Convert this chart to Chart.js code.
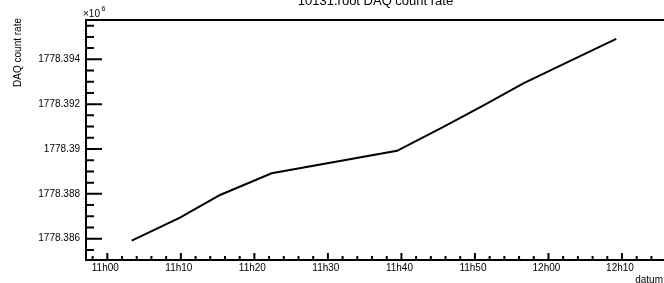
<!DOCTYPE html>
<html lang="en">
<head>
  <meta charset="UTF-8">
  <title>10131.root DAQ count rate</title>
  <script src="https://cdn.jsdelivr.net/npm/chart.js"></script>
  <style>
    html, body { margin: 0; padding: 0; overflow: hidden; background: #fff; }
    canvas { display: block; }
  </style>
</head>
<body>
  <canvas id="rateChart" width="670" height="283"></canvas>

  <script>
// measurement times (hh:mm:ss) and DAQ count rate in units of 10^6
const times = ['11:03:19', '11:09:53', '11:15:20', '11:22:21', '11:39:24',
               '11:45:31', '11:51:03', '11:56:35', '12:02:53', '12:09:13'];
const rates = [1778.38591, 1778.38694, 1778.38795, 1778.38892, 1778.38992,
               1778.39095, 1778.39192, 1778.39293, 1778.39392, 1778.39491];

// axis ticks (x in minutes since midnight)
const xTicks = [660, 670, 680, 690, 700, 710, 720, 730];
const yTicks = [1778.386, 1778.388, 1778.39, 1778.392, 1778.394];

function toMinutes(t) {
  const p = t.split(':').map(Number);
  return p[0] * 60 + p[1] + p[2] / 60;
}

function fmtTime(v) {
  const h = Math.floor(v / 60);
  const m = Math.round(v - h * 60);
  return h + 'h' + (m < 10 ? '0' : '') + m;
}

const points = times.map((t, i) => ({ x: toMinutes(t), y: rates[i] }));

const FONT = 'Liberation Sans, Arial, Helvetica, sans-serif';
Chart.defaults.font.family = FONT;
Chart.defaults.color = '#000';

// ROOT style frame, inward ticks and labels
const rootFrame = {
  id: 'rootFrame',
  afterDraw(chart) {
    const ctx = chart.ctx;
    const a = chart.chartArea;
    const xs = chart.scales.x;
    const ys = chart.scales.y;
    ctx.save();
    ctx.strokeStyle = '#000';
    ctx.lineWidth = 2;
    ctx.strokeRect(a.left, a.top, a.right - a.left, a.bottom - a.top);

    // y ticks (minor every 0.0005, major every 0.002)
    ctx.beginPath();
    const yStart = Math.ceil(ys.min / 0.0005);
    const yEnd = Math.floor(ys.max / 0.0005);
    for (let k = yStart; k <= yEnd; k++) {
      const v = k * 0.0005;
      const py = ys.getPixelForValue(v);
      const major = yTicks.some(t => Math.abs(t - v) < 1e-7);
      ctx.moveTo(a.left, py);
      ctx.lineTo(a.left + (major ? 16 : 8), py);
    }
    // x ticks (minor every 2 min, major every 10 min)
    const xStart = Math.ceil(xs.min / 2);
    const xEnd = Math.floor(xs.max / 2);
    for (let k = xStart; k <= xEnd; k++) {
      const v = k * 2;
      const px = xs.getPixelForValue(v);
      const major = v % 10 === 0;
      ctx.moveTo(px, a.bottom);
      ctx.lineTo(px, a.bottom - (major ? 7 : 4));
    }
    ctx.stroke();

    // title
    ctx.fillStyle = '#000';
    ctx.font = '13px ' + FONT;
    ctx.textAlign = 'center';
    ctx.textBaseline = 'alphabetic';
    ctx.fillText('10131.root DAQ count rate', (a.left + a.right) / 2, 5);

    // exponent
    ctx.textAlign = 'left';
    ctx.font = '10px ' + FONT;
    ctx.fillText('\u00d710', 83, 17);
    ctx.font = '7px ' + FONT;
    ctx.fillText('6', 101.5, 10.5);

    // x title
    ctx.font = '10px ' + FONT;
    ctx.textAlign = 'right';
    ctx.fillText('datum', 663, 282.5);

    // y title
    ctx.translate(20.5, 18);
    ctx.rotate(-Math.PI / 2);
    ctx.textAlign = 'right';
    ctx.fillText('DAQ count rate', 0, 0);
    ctx.restore();
  }
};

const ctx = document.getElementById('rateChart').getContext('2d');
const chart = new Chart(ctx, {
  type: 'line',
  data: {
    datasets: [{
      label: 'DAQ count rate',
      data: points,
      borderColor: '#000',
      backgroundColor: '#000',
      borderWidth: 2,
      pointRadius: 0,
      tension: 0
    }]
  },
  options: {
    responsive: false,
    animation: false,
    layout: { padding: { top: 20, right: 5, left: 0, bottom: 0 } },
    plugins: { legend: { display: false }, tooltip: { enabled: false } },
    scales: {
      x: {
        type: 'linear',
        min: 657.10,
        max: 735.85,
        grid: { display: false, drawTicks: false },
        border: { display: false },
        ticks: {
          font: { size: 10 },
          padding: 2,
          labelOffset: -2,
          autoSkip: false,
          maxRotation: 0,
          minRotation: 0,
          callback: v => fmtTime(v)
        },
        afterBuildTicks: s => { s.ticks = xTicks.map(v => ({ value: v })); },
        afterFit: s => { s.height = 23; }
      },
      y: {
        min: 1778.38505,
        max: 1778.395753,
        grid: { display: false, drawTicks: false },
        border: { display: false },
        ticks: {
          font: { size: 10 },
          padding: 6,
          autoSkip: false,
          callback: v => String(parseFloat(v.toFixed(3)))
        },
        afterBuildTicks: s => { s.ticks = yTicks.map(v => ({ value: v })); },
        afterFit: s => { s.width = 86; }
      }
    }
  },
  plugins: [rootFrame]
});
  </script>
</body>
</html>
